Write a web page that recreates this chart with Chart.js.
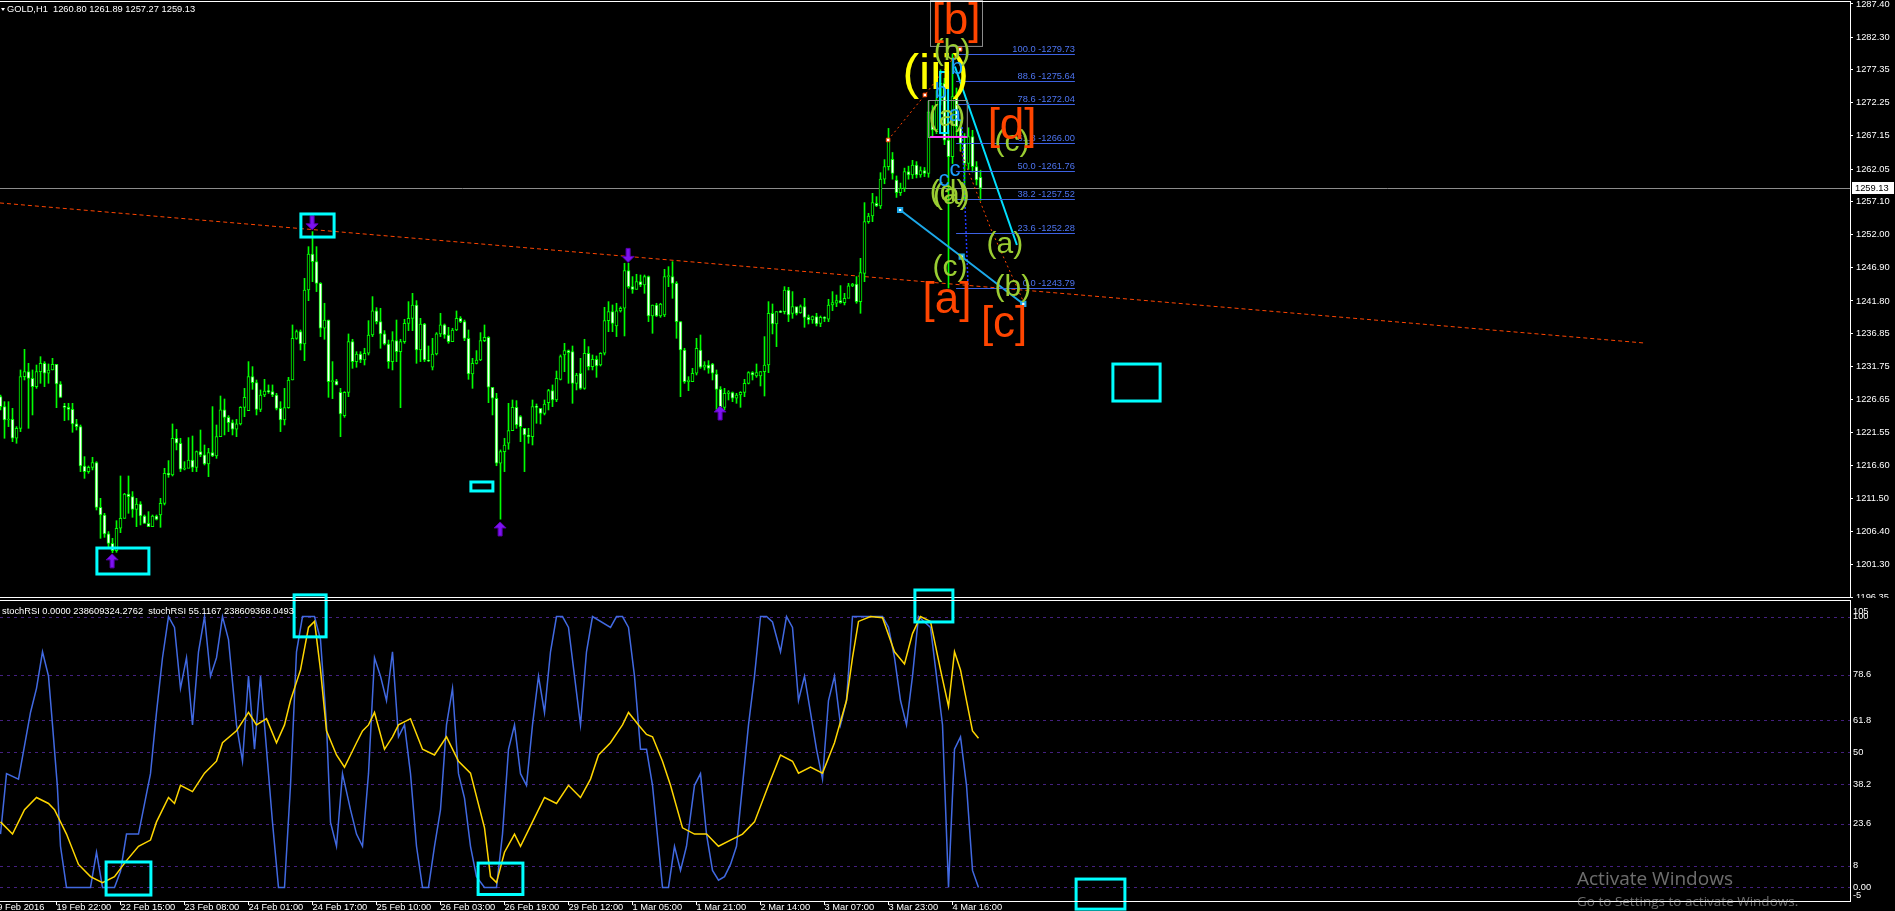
<!DOCTYPE html>
<html>
<head>
<meta charset="utf-8">
<title>GOLD,H1</title>
<script src="https://cdn.jsdelivr.net/npm/chart.js"></script>
<style>
  html, body { margin: 0; padding: 0; background: #000; overflow: hidden; width: 1895px; height: 911px; }
  #wrap { position: relative; width: 1895px; height: 911px; }
  #priceCanvas { position: absolute; left: 0; top: 0; }
  #oscCanvas { position: absolute; left: 0; top: 588px; }
</style>
</head>
<body>
<div id="wrap">
  <canvas id="priceCanvas" width="1895" height="598"></canvas>
  <canvas id="oscCanvas" width="1895" height="323"></canvas>
</div>
<script>
// ---------- GOLD H1 candles (bar index 0 = 19 Feb 2016 08:00) ----------
const O = [
  1227.11,1225.58,1223.53,1223.63,1220.72,1222.25,1230.18,1230.95,1229.93,1228.65,
  1230.95,1232.23,1230.70,1231.21,1232.08,1229.06,1225.68,1225.47,1225.17,1222.92,
  1222.51,1216.47,1215.60,1216.26,1216.98,1210.12,1208.94,1206.03,1204.59,1203.47,
  1206.90,1208.43,1212.17,1211.76,1209.81,1210.63,1208.79,1207.66,1207.15,1208.79,
  1208.94,1210.73,1215.34,1215.09,1220.72,1219.95,1215.96,1216.11,1217.39,1216.26,
  1218.67,1218.16,1216.77,1218.51,1218.00,1220.97,1225.07,1223.94,1223.12,1222.10,
  1222.92,1225.47,1224.96,1230.18,1229.26,1225.17,1227.37,1227.98,1227.88,1227.37,
  1225.32,1223.53,1225.42,1229.67,1236.07,1237.09,1235.20,1243.49,1249.02,1247.84,
  1244.51,1237.61,1238.88,1229.42,1229.52,1227.78,1224.20,1227.78,1235.56,1232.49,
  1233.66,1232.74,1233.77,1236.58,1240.27,1238.63,1236.74,1235.20,1232.49,1235.71,
  1234.02,1235.56,1238.37,1239.14,1241.19,1234.28,1238.27,1232.74,1231.62,1233.66,
  1236.74,1238.12,1236.58,1235.56,1237.35,1239.14,1238.63,1236.07,1230.59,1232.23,
  1232.74,1235.71,1236.22,1228.55,1226.86,1216.88,1218.67,1219.95,1221.89,1225.47,
  1224.04,1222.25,1221.23,1220.97,1225.58,1225.32,1224.55,1226.19,1228.03,1226.60,
  1229.77,1233.51,1234.18,1234.02,1229.16,1230.70,1228.39,1233.77,1231.72,1232.85,
  1231.97,1233.77,1238.78,1240.16,1237.96,1240.27,1240.68,1246.46,1244.00,1243.59,
  1244.77,1244.26,1245.54,1239.50,1241.19,1239.50,1239.65,1245.54,1245.54,1244.51,
  1238.63,1234.28,1229.42,1229.42,1230.70,1234.28,1231.62,1231.97,1232.13,1230.59,
  1228.24,1225.47,1227.62,1227.73,1226.86,1227.37,1227.78,1229.16,1230.80,1230.29,
  1230.29,1230.95,1231.97,1239.91,1238.27,1240.16,1240.16,1243.49,1239.91,1240.93,
  1240.01,1240.93,1239.29,1238.88,1239.40,1238.37,1239.29,1238.99,1241.19,1241.45,
  1241.85,1241.55,1242.21,1244.11,1244.41,1241.70,1246.05,1253.98,1254.85,1256.80,
  1256.39,1260.50,1262.42,1263.55,1260.37,1258.43,1259.09,1261.65,1261.14,1262.68,
  1261.14,1261.81,1261.40,1270.86,1268.05,1272.66,1275.22,1266.51,1263.96,1273.17,
  1268.56,1266.00,1262.93,1267.03,1262.42,1260.80
];
const H = [
  1227.37,1226.34,1226.34,1225.32,1222.50,1231.21,1234.38,1232.23,1231.21,1231.97,
  1233.25,1232.49,1232.13,1233.00,1232.08,1229.42,1226.09,1226.09,1226.09,1223.63,
  1222.76,1217.90,1216.47,1217.80,1217.13,1211.50,1209.20,1206.39,1205.36,1208.07,
  1214.93,1212.27,1214.93,1212.53,1211.50,1210.99,1208.94,1209.45,1208.94,1208.94,
  1211.50,1216.11,1217.29,1222.92,1222.10,1220.72,1217.13,1220.82,1221.07,1218.77,
  1221.99,1219.69,1219.18,1225.58,1222.76,1227.21,1226.75,1224.20,1223.53,1223.63,
  1225.58,1228.39,1232.49,1231.72,1229.67,1228.14,1229.77,1228.91,1228.91,1227.62,
  1226.34,1228.39,1230.08,1238.12,1237.35,1237.35,1245.28,1250.14,1252.45,1250.14,
  1244.62,1241.45,1238.88,1232.49,1229.77,1228.39,1227.88,1236.74,1235.92,1234.02,
  1234.02,1234.54,1238.78,1242.47,1240.78,1240.68,1237.25,1235.81,1237.09,1238.88,
  1235.92,1238.99,1241.70,1242.98,1241.85,1239.14,1238.37,1234.89,1236.07,1236.94,
  1239.91,1238.27,1237.76,1237.61,1240.27,1239.40,1238.88,1237.35,1233.00,1234.18,
  1236.94,1238.12,1236.33,1227.62,1227.62,1218.93,1220.72,1226.09,1226.60,1226.50,
  1224.20,1222.25,1222.25,1226.60,1225.99,1225.32,1226.60,1228.24,1228.91,1231.05,
  1233.51,1235.30,1234.28,1234.89,1230.70,1233.00,1235.92,1234.79,1233.51,1233.36,
  1233.87,1240.83,1241.70,1241.19,1241.45,1240.90,1247.59,1247.59,1245.54,1245.90,
  1245.79,1245.79,1245.64,1241.19,1241.45,1241.45,1246.66,1247.07,1247.84,1244.77,
  1238.63,1234.54,1230.18,1231.46,1236.07,1236.58,1232.49,1232.64,1232.23,1231.21,
  1228.65,1228.39,1228.03,1227.83,1227.62,1227.88,1229.77,1230.95,1230.95,1232.13,
  1230.95,1236.33,1241.70,1241.34,1240.16,1240.32,1244.00,1243.90,1243.24,1240.83,
  1241.19,1242.21,1239.65,1239.50,1239.91,1239.50,1239.40,1242.06,1243.24,1242.72,
  1244.16,1242.98,1244.51,1244.51,1245.54,1248.35,1256.90,1255.26,1258.33,1257.82,
  1261.50,1263.50,1268.30,1264.60,1261.00,1259.90,1262.20,1262.50,1263.40,1263.20,
  1262.40,1262.30,1272.50,1271.80,1274.10,1277.30,1276.00,1268.00,1279.73,1274.50,
  1269.50,1267.50,1268.40,1268.00,1263.20,1261.89
];
const L = [
  1225.07,1220.72,1222.51,1220.20,1219.95,1221.74,1229.67,1222.25,1224.30,1228.39,
  1229.16,1228.65,1229.16,1231.21,1225.42,1227.01,1223.43,1223.53,1221.64,1221.99,
  1215.60,1214.57,1215.34,1215.86,1209.71,1205.36,1205.51,1203.83,1203.16,1203.21,
  1206.23,1208.43,1209.20,1208.59,1207.15,1207.41,1207.66,1207.15,1207.15,1208.17,
  1207.05,1210.48,1214.73,1214.93,1218.93,1215.60,1215.86,1216.26,1215.60,1215.60,
  1217.90,1216.62,1214.83,1217.90,1217.64,1220.97,1221.23,1221.74,1221.23,1220.97,
  1222.76,1224.04,1224.96,1228.24,1224.30,1224.81,1227.11,1227.62,1227.11,1225.07,
  1221.74,1222.76,1225.32,1229.67,1235.92,1234.28,1232.64,1241.85,1244.77,1243.24,
  1236.33,1235.92,1227.01,1226.81,1228.91,1220.97,1223.94,1227.11,1231.46,1231.62,
  1232.33,1231.97,1233.51,1236.33,1238.27,1234.54,1235.05,1231.46,1231.21,1232.49,
  1225.42,1235.30,1237.25,1237.25,1232.23,1232.49,1232.49,1232.49,1231.21,1233.51,
  1236.33,1236.07,1235.30,1235.56,1237.25,1238.47,1235.71,1229.77,1228.39,1232.13,
  1232.64,1235.56,1226.19,1224.30,1216.50,1208.30,1215.60,1219.03,1221.89,1222.25,
  1220.20,1215.60,1219.95,1219.69,1223.02,1222.92,1224.30,1225.07,1225.58,1226.34,
  1229.67,1230.95,1229.16,1226.09,1228.14,1228.24,1228.24,1231.21,1231.21,1230.08,
  1231.82,1233.51,1237.09,1237.09,1236.33,1240.10,1236.43,1243.75,1242.98,1243.59,
  1244.00,1242.98,1238.63,1236.84,1239.40,1239.29,1239.40,1244.00,1242.21,1236.07,
  1227.11,1229.16,1228.03,1229.42,1230.44,1231.46,1231.21,1230.70,1229.67,1225.07,
  1225.07,1225.07,1226.60,1226.34,1226.09,1225.47,1227.11,1229.06,1229.67,1230.08,
  1228.75,1227.21,1230.80,1236.74,1234.79,1240.01,1239.81,1238.63,1239.14,1239.65,
  1239.91,1237.76,1238.27,1238.37,1237.96,1237.86,1238.63,1238.63,1240.32,1240.93,
  1241.45,1241.19,1242.36,1244.00,1241.45,1239.91,1244.77,1253.73,1253.98,1256.29,
  1256.00,1259.80,1261.90,1260.50,1257.70,1258.00,1258.60,1260.50,1260.60,1260.70,
  1260.80,1260.90,1260.80,1266.90,1267.50,1271.90,1265.80,1243.79,1262.90,1267.20,
  1264.80,1257.30,1262.00,1261.60,1259.60,1257.27
];
const C = [
  1225.58,1223.53,1223.63,1220.72,1222.25,1230.18,1230.95,1229.93,1228.65,1230.95,
  1232.23,1230.70,1231.21,1232.08,1229.06,1227.01,1225.47,1225.17,1222.92,1222.51,
  1216.47,1215.60,1216.26,1216.98,1210.12,1208.94,1206.03,1204.59,1203.47,1206.90,
  1208.43,1212.17,1211.76,1209.81,1210.63,1208.79,1207.66,1207.15,1208.79,1208.27,
  1210.73,1215.34,1215.09,1220.72,1219.95,1215.96,1216.11,1217.39,1216.26,1218.67,
  1218.16,1216.77,1218.51,1218.00,1220.97,1225.07,1223.94,1223.12,1222.10,1222.92,
  1225.47,1227.01,1230.18,1229.26,1225.17,1227.37,1227.98,1227.88,1227.37,1225.32,
  1223.53,1225.42,1229.67,1236.07,1237.09,1235.20,1243.49,1249.02,1247.84,1244.51,
  1237.61,1238.88,1229.42,1229.52,1228.91,1224.45,1227.78,1235.56,1232.49,1233.66,
  1232.74,1233.77,1236.58,1240.27,1238.63,1236.74,1235.20,1232.49,1235.71,1234.02,
  1235.56,1238.37,1239.14,1241.19,1234.28,1238.27,1232.74,1232.59,1233.66,1236.74,
  1238.12,1236.58,1235.56,1237.35,1239.14,1238.63,1236.07,1230.59,1232.23,1232.74,
  1235.71,1236.22,1228.55,1226.86,1216.88,1218.67,1219.69,1221.89,1225.47,1222.76,
  1222.51,1221.23,1220.97,1225.58,1225.47,1224.55,1225.99,1228.03,1226.60,1229.93,
  1233.25,1234.18,1233.87,1229.16,1230.44,1228.39,1233.77,1231.72,1232.85,1231.82,
  1233.77,1238.78,1240.16,1238.37,1240.27,1240.68,1246.46,1244.00,1243.59,1244.77,
  1244.26,1245.54,1239.50,1241.19,1239.50,1241.34,1245.54,1245.64,1244.51,1238.63,
  1234.28,1229.42,1229.67,1230.70,1234.54,1231.62,1231.97,1231.46,1230.70,1228.24,
  1225.47,1227.62,1227.83,1226.86,1227.37,1227.78,1229.16,1230.80,1230.44,1230.80,
  1230.95,1231.97,1239.91,1238.27,1240.16,1240.06,1243.49,1239.65,1240.93,1239.91,
  1240.93,1239.29,1238.88,1239.40,1238.27,1239.29,1239.14,1241.19,1241.55,1241.85,
  1241.55,1242.21,1244.11,1244.41,1241.70,1246.15,1253.98,1254.85,1256.90,1256.39,
  1260.50,1262.42,1266.51,1261.40,1258.43,1259.09,1261.65,1261.14,1262.68,1261.14,
  1261.81,1261.40,1270.86,1268.05,1272.66,1275.22,1266.51,1263.96,1273.17,1268.56,
  1266.00,1262.93,1267.03,1262.42,1260.37,1259.13
];
const symbol = 'GOLD,H1';
const lastQuote = { open: 1260.80, high: 1261.89, low: 1257.27, close: 1259.13 };

// ---------- axis labels ----------
const priceTicks = [1287.40,1282.30,1277.35,1272.25,1267.15,1262.05,1257.10,1252.00,1246.90,
                    1241.80,1236.85,1231.75,1226.65,1221.55,1216.60,1211.50,1206.40,1201.30,1196.35];
const timeTickBars = [-2.1,14,30,46,62,78,94,110,126,142,158,174,190,206,222,238];
const timeTickLabels = ['19 Feb 2016','19 Feb 22:00','22 Feb 15:00','23 Feb 08:00','24 Feb 01:00',
  '24 Feb 17:00','25 Feb 10:00','26 Feb 03:00','26 Feb 19:00','29 Feb 12:00','1 Mar 05:00',
  '1 Mar 21:00','2 Mar 14:00','3 Mar 07:00','3 Mar 23:00','4 Mar 16:00'];
const oscTicks = [105,100,78.6,61.8,50,38.2,23.6,8,0,-5];
const oscLevels = [100,78.6,61.8,50,38.2,23.6,8,0];

// ---------- stochRSI (bar, value) ----------
const stochMain = [[0,19.7],[1.5,42],[4.5,40],[7.5,64.6],[9,73.5],[10.5,87],[12,78],[13,60],[14.2,37.7],
  [15,15.2],[16.5,0],[18,0],[22.5,0],[24,13],[25.5,0],[28.5,0],[30,6],[31.5,19.7],[34.5,19.7],[37.5,42],
  [39,64.6],[40.5,84.8],[42,100],[43.5,96],[45,73.5],[46.5,84.8],[48,60],[49.5,87],[51,100],[52.5,78],
  [54,84.8],[55.5,100],[57,91.5],[59,60],[60.5,46.6],[62,78],[63.5,51],[65,78],[66.5,51],[68,24],
  [69.5,0],[71,0],[72.5,37.7],[74,87],[75.5,100],[78.5,100],[80,91.5],[81.5,60],[82.5,24],[84,15.2],
  [85.5,42],[87.5,28.7],[89,19.7],[90.5,15.2],[92,42],[93.5,84.8],[95,78],[96.5,69],[98,87],[99.5,55.6],
  [101,60],[102.5,42],[104,15.2],[105.5,0],[107,0],[108.5,15.2],[110,28.7],[111.5,60],[113,73.5],
  [114.5,42],[116,33],[117.5,15.2],[119,4],[121,0],[124,0],[125.5,19.7],[127,51],[128.5,60],[130,42],
  [131.5,37.7],[133,60],[134.5,78],[136,64.6],[137.5,87],[139,100],[140.5,100],[142,96],[143.5,78],
  [145,60],[146.5,87],[148,100],[152.5,96],[154,100],[155.5,100],[157,96],[158.5,78],[160,51],[161.5,51],
  [163,37.7],[164.5,15.2],[165.5,0],[167,0],[168.5,15.2],[170,6.3],[171.5,15.2],[173.5,37.7],[175,42],
  [176.5,19.7],[178,6.3],[179.5,2.7],[181,4],[182.5,8.5],[184,15.2],[185.5,37.7],[187,60],[188.5,78],
  [190,100],[191.5,100],[193,98],[195,87],[196.5,100],[198,96],[199.5,69],[201,78],[202.5,64.6],[204,51],
  [205.5,40],[207,69],[208.5,78],[210,60],[211.5,69],[213,100],[220.5,100],[222,96],[223.5,84.8],[225,69],
  [226.5,60],[228,78],[229.5,100],[231,98],[232.5,96],[234,78],[235.5,60],[237,0],[238.5,51],[240,55.6],
  [241.5,37.7],[243,6.3],[244.5,0]];
const stochSignal = [[0,24.2],[3,19.7],[6,28.7],[9,33.2],[12,31],[13.5,28.7],[16.5,19.7],[19.5,8.5],
  [22.5,4],[25.5,1.8],[28.5,4],[31.5,9.9],[34.5,15.2],[37.5,17.5],[39,24.2],[42,33.2],[43.5,31],[45,37.7],
  [48,35.4],[51,42.2],[54,46.6],[55.5,53.4],[59,57.8],[62,64.6],[64,60],[66.5,62.3],[69,53.4],[71,60],
  [72.5,69],[75,80.3],[77,96],[78.5,98.2],[80,80.3],[81.5,57.8],[84,48.9],[86,44.4],[87.5,48.9],[89,53.4],
  [90.5,57.8],[92,60],[93.5,64.6],[96,51],[98,55.6],[99.5,60],[102.5,62.3],[105.5,51],[108.5,48.9],
  [111.5,55.6],[114.5,46.6],[117.5,42.2],[121,22],[122.5,4],[124,1.8],[126,13],[128.5,19.7],[130,15.2],
  [133,24.2],[136,33.2],[139,31],[142,37.7],[145,33.2],[147.5,40],[149.5,48.9],[152.5,53.4],[155.5,60],
  [157,64.6],[159.5,60],[161.5,56.5],[163,55.6],[165.5,46.6],[167.5,37.7],[170.5,22],[173.5,19.7],
  [176.5,19.7],[179.5,15.2],[182.5,17.5],[185.5,19.7],[188.5,24.2],[192,37.7],[195,48.9],[198,46.6],
  [199.5,42.2],[202.5,44.4],[205.5,42.2],[208.5,53.4],[211.5,69],[213,84.8],[214.5,98.2],[217.5,100],
  [220.5,99.6],[223.5,87],[226,82.5],[228,93.7],[230,100],[232.5,98.2],[235,80.3],[237,66.8],[238.5,87],
  [240,80.3],[241.5,69],[243,57.8],[244.5,55.1]];
const stochHeader = 'stochRSI 0.0000 238609324.2762  stochRSI 55.1167 238609368.0493';

// ---------- drawing objects on the price panel ----------
const trendLine = [[-0.125,1256.85],[410.9,1235.35]];
const fibPercents = ['100.0','88.6','78.6','61.8','50.0','38.2','23.6','0.0'];
const fibPrices = [1279.73,1275.64,1272.04,1266.00,1261.76,1257.52,1252.28,1243.79];
const fibSpan = [238.9, 268.6];
const waveLineA = [[224.9,1255.77],[240.3,1248.6],[255.7,1241.34]];
const waveLineB = [[238.6,1277.8],[254.1,1250.4]];
const zigzagUp = [[221.9,1266.52],[231.1,1273.43],[239.9,1280.44]];
const zigzagDown = [[239.9,1265.0],[247.5,1253.0],[256.1,1241.2]];
const dropLine = [[240.4,1268.5],[241.9,1243.94]];
// [bar from, bar to, price low, price high]
const priceBoxes = [[24.1,37.1,1199.88,1203.87],[75.1,83.4,1251.62,1255.16],
                    [117.6,123.1,1212.63,1214.01],[278.1,289.9,1226.44,1232.12]];
const oscBoxes = [[73.4,81.4,92.5,108.0],[26.4,37.6,-2.8,9.4],[119.4,130.6,-2.6,9.0],
                  [228.6,238.1,98.0,109.8],[268.9,281.1,-8.0,3.1]];
// swing arrows: dir 1 = up, -1 = down
const swingArrows = [{bar:27.9, price:1201.9, dir:1},{bar:77.9, price:1253.8, dir:-1},
                     {bar:124.9, price:1206.8, dir:1},{bar:156.9, price:1248.8, dir:-1},
                     {bar:179.9, price:1224.6, dir:1}];
const waveLabels = [
  {t:'(iii)', bar:233.8, price:1276.4, size:50, color:'#ffff00'},
  {t:'(b)', bar:237.9, price:1280.0, size:30, color:'#9acd32'},
  {t:'(a)', bar:236.6, price:1269.9, size:30, color:'#9acd32'},
  {t:'(d)', bar:236.9, price:1258.4, size:30, color:'#9acd32'},
  {t:'(a)', bar:237.7, price:1258.0, size:30, color:'#9acd32'},
  {t:'(c)', bar:237.4, price:1246.9, size:30, color:'#9acd32'},
  {t:'(c)', bar:252.9, price:1266.1, size:30, color:'#9acd32'},
  {t:'(a)', bar:251.1, price:1250.4, size:30, color:'#9acd32'},
  {t:'(b)', bar:253.1, price:1243.8, size:30, color:'#9acd32'},
  {t:'b', bar:239.1, price:1277.6, size:22, color:'#1ea0ff'},
  {t:'b', bar:235.1, price:1273.9, size:22, color:'#1ea0ff'},
  {t:'a', bar:238.6, price:1270.4, size:22, color:'#1ea0ff'},
  {t:'c', bar:238.6, price:1261.9, size:22, color:'#1ea0ff'},
  {t:'c', bar:235.9, price:1260.4, size:22, color:'#1ea0ff'},
  {t:'[b]', bar:238.9, price:1284.6, size:44, color:'#ff4500'},
  {t:'[d]', bar:252.9, price:1268.5, size:44, color:'#ff4500'},
  {t:'[a]', bar:236.6, price:1241.8, size:44, color:'#ff4500'},
  {t:'[c]', bar:250.9, price:1238.1, size:44, color:'#ff4500'}
];

// ---------- chart setup ----------
const FONT = "'Liberation Sans', Arial, sans-serif";
Chart.defaults.font.family = FONT;
Chart.defaults.font.size = 9.3;
Chart.defaults.color = '#ffffff';

const X_MIN = -0.125, X_MAX = 462.375, AXIS_W = 45;
const toXY = arr => arr.map(([x, y]) => ({x, y}));

const wickData = O.map((o, i) => ({x: i, y: [L[i], H[i]]}));
const bodyData = O.map((o, i) => ({x: i, y: [o, C[i]]}));
const bodyFill = O.map((o, i) => (C[i] > o ? '#000000' : '#ffffff'));

function drawArrow(ctx, cx, cy, dir) {
  const shape = [[0,-7],[6,-1],[2,-1],[2,7],[-2,7],[-2,-1],[-6,-1]];
  ctx.beginPath();
  shape.forEach(([dx, dy], k) => {
    const px = cx + dx, py = cy + dy * dir;
    if (k === 0) ctx.moveTo(px, py); else ctx.lineTo(px, py);
  });
  ctx.closePath();
  ctx.fillStyle = '#7d12f0';
  ctx.fill();
  ctx.strokeStyle = '#5a00b0';
  ctx.lineWidth = 1;
  ctx.stroke();
}

const priceDecor = {
  id: 'priceDecor',
  beforeDraw(chart) {
    const {ctx, width, height} = chart;
    ctx.save();
    ctx.fillStyle = '#000';
    ctx.fillRect(0, 0, width, height);
    ctx.restore();
  },
  beforeDatasetsDraw(chart) {
    const {ctx, chartArea: a, scales: {y}} = chart;
    const yy = Math.round(y.getPixelForValue(lastQuote.close)) + 0.5;
    ctx.save();
    ctx.strokeStyle = '#8c8c8c';
    ctx.lineWidth = 1;
    ctx.beginPath(); ctx.moveTo(a.left, yy); ctx.lineTo(a.right, yy); ctx.stroke();
    ctx.restore();
  },
  afterDatasetsDraw(chart) {
    const {ctx, scales: {x, y}} = chart;
    const X = v => x.getPixelForValue(v), Y = v => y.getPixelForValue(v);
    ctx.save();

    swingArrows.forEach(a => drawArrow(ctx, X(a.bar), Y(a.price), a.dir));

    ctx.strokeStyle = '#00ffff';
    ctx.lineWidth = 3;
    priceBoxes.forEach(b => ctx.strokeRect(X(b[0]), Y(b[3]), X(b[1]) - X(b[0]), Y(b[2]) - Y(b[3])));

    // fibonacci levels
    ctx.strokeStyle = '#3d62e4';
    ctx.lineWidth = 1;
    fibPrices.forEach(p => {
      const yy = Math.round(Y(p)) + 0.5;
      ctx.beginPath(); ctx.moveTo(X(fibSpan[0]), yy); ctx.lineTo(X(fibSpan[1]), yy); ctx.stroke();
    });
    ctx.fillStyle = '#4d74f0';
    ctx.font = '9.3px ' + FONT;
    ctx.textAlign = 'right';
    ctx.textBaseline = 'alphabetic';
    fibPrices.forEach((p, i) => ctx.fillText(fibPercents[i] + ' -' + p.toFixed(2), X(fibSpan[1]), Y(p) - 2));

    // frames around the wave labels
    ctx.lineWidth = 1;
    ctx.strokeStyle = '#8c8c8c';
    ctx.strokeRect(Math.round(X(232.4)) + 0.5, Math.round(Y(1288.0)) + 0.5, X(245.4) - X(232.4), Y(1280.95) - Y(1288.0));
    ctx.strokeRect(Math.round(X(231.9)) + 0.5, Math.round(Y(1272.66)) + 0.5, X(241.6) - X(231.9), Y(1266.98) - Y(1272.66));
    ctx.strokeStyle = '#ff40ff';
    ctx.lineWidth = 2;
    ctx.beginPath(); ctx.moveTo(X(232.4), Y(1266.98)); ctx.lineTo(X(241.6), Y(1266.98)); ctx.stroke();
    ctx.strokeStyle = '#00e5ff';
    ctx.strokeRect(X(234.9), Y(1276.96), X(236.9) - X(234.9), Y(1267.59) - Y(1276.96));

    // wave labels
    ctx.textAlign = 'center';
    ctx.textBaseline = 'middle';
    waveLabels.forEach(w => {
      ctx.font = w.size + 'px ' + FONT;
      ctx.fillStyle = w.color;
      ctx.fillText(w.t, X(w.bar), Y(w.price));
    });
    ctx.restore();
  },
  afterDraw(chart) {
    const {ctx, chartArea: a, scales: {y}} = chart;
    ctx.save();
    ctx.fillStyle = '#ffffff';
    ctx.fillRect(0, 1, a.right + 1, 1);
    ctx.fillRect(0, 597, a.right + 1, 1);
    ctx.fillRect(a.right, 1, 1, 597);

    // header
    ctx.beginPath(); ctx.moveTo(1, 8); ctx.lineTo(5, 8); ctx.lineTo(3, 11); ctx.closePath(); ctx.fill();
    ctx.font = '9.3px ' + FONT;
    ctx.textAlign = 'left';
    ctx.textBaseline = 'middle';
    const q = lastQuote;
    ctx.fillText(symbol + '  ' + [q.open, q.high, q.low, q.close].map(v => v.toFixed(2)).join(' '), 7, 9.5);

    // last price tag
    const ty = Math.round(y.getPixelForValue(q.close));
    ctx.fillStyle = '#ffffff';
    ctx.fillRect(a.right + 2, ty - 6, 42, 12);
    ctx.fillStyle = '#000000';
    ctx.fillText(q.close.toFixed(2), a.right + 5, ty + 0.5);
    ctx.restore();
  }
};

new Chart(document.getElementById('priceCanvas'), {
  type: 'bar',
  data: {
    datasets: [
      {type: 'line', data: toXY(waveLineA), borderColor: '#1ca8e8', borderWidth: 2, pointStyle: 'rect',
       pointRadius: 3, pointBackgroundColor: '#ffffff', pointBorderColor: '#1ca8e8', pointBorderWidth: 2, order: 1},
      {type: 'line', data: toXY(waveLineB), borderColor: '#00e0ff', borderWidth: 2, pointRadius: 0, order: 1},
      {type: 'line', data: toXY(zigzagUp), borderColor: '#ff4500', borderWidth: 1, borderDash: [2, 3],
       pointStyle: 'rect', pointRadius: 2.5, pointBackgroundColor: '#ffffff', pointBorderColor: '#ff4500', order: 2},
      {type: 'line', data: toXY(zigzagDown), borderColor: '#ff4500', borderWidth: 1, borderDash: [2, 3], pointRadius: 0, order: 2},
      {type: 'line', data: toXY(dropLine), borderColor: '#2038ff', borderWidth: 1.5, borderDash: [2, 2], pointRadius: 0, order: 2},
      {label: 'body', data: bodyData, backgroundColor: bodyFill, borderColor: '#00ff00', borderWidth: 1,
       borderSkipped: false, barThickness: 3, minBarLength: 1, grouped: false, order: 5},
      {label: 'wick', data: wickData, backgroundColor: '#00ff00', barThickness: 1, grouped: false, order: 6},
      {type: 'line', data: toXY(trendLine), borderColor: '#ff4500', borderWidth: 1, borderDash: [4, 3], pointRadius: 0, order: 7}
    ]
  },
  options: {
    responsive: false,
    animation: false,
    devicePixelRatio: 1,
    events: [],
    layout: {autoPadding: false, padding: {top: 1, bottom: 1, left: 0, right: 0}},
    plugins: {legend: {display: false}, tooltip: {enabled: false}},
    scales: {
      x: {type: 'linear', min: X_MIN, max: X_MAX, display: false, offset: false},
      y: {
        position: 'right', min: 1196.35, max: 1287.86,
        afterBuildTicks: s => { s.ticks = priceTicks.map(v => ({value: v})); },
        afterFit: s => { s.width = AXIS_W; s.paddingTop = 0; s.paddingBottom = 0; },
        grid: {drawOnChartArea: false, color: '#ffffff', tickLength: 3},
        border: {display: false},
        ticks: {color: '#ffffff', padding: 3, autoSkip: false, callback: v => Number(v).toFixed(2)}
      }
    }
  },
  plugins: [priceDecor]
});

const oscDecor = {
  id: 'oscDecor',
  beforeDraw(chart) {
    const {ctx, width, height} = chart;
    ctx.save();
    ctx.fillStyle = '#000';
    ctx.fillRect(0, 10, width, height - 10);
    ctx.restore();
  },
  beforeDatasetsDraw(chart) {
    const {ctx, chartArea: a, scales: {y}} = chart;
    ctx.save();
    ctx.strokeStyle = '#44207f';
    ctx.lineWidth = 1;
    ctx.setLineDash([3, 4]);
    oscLevels.forEach(v => {
      const yy = Math.round(y.getPixelForValue(v)) + 0.5;
      ctx.beginPath(); ctx.moveTo(a.left, yy); ctx.lineTo(a.right, yy); ctx.stroke();
    });
    ctx.restore();
  },
  afterDatasetsDraw(chart) {
    const {ctx, scales: {x, y}} = chart;
    const X = v => x.getPixelForValue(v), Y = v => y.getPixelForValue(v);
    ctx.save();
    ctx.strokeStyle = '#00ffff';
    ctx.lineWidth = 3;
    oscBoxes.forEach(b => ctx.strokeRect(X(b[0]), Y(b[3]), X(b[1]) - X(b[0]), Y(b[2]) - Y(b[3])));
    ctx.restore();
  },
  afterDraw(chart) {
    const {ctx, chartArea: a, scales: {y}} = chart;
    ctx.save();
    ctx.fillStyle = '#ffffff';
    ctx.fillRect(0, 12, a.right + 1, 1);
    ctx.fillRect(0, a.bottom, a.right + 1, 1);
    ctx.fillRect(a.right, 12, 1, a.bottom - 11);

    ctx.font = '9.3px ' + FONT;
    ctx.textAlign = 'left';
    ctx.textBaseline = 'middle';
    ctx.fillText(stochHeader, 2, 23);
    ctx.fillText('105', a.right + 3, y.getPixelForValue(105) + 8);
    ctx.fillText('-5', a.right + 3, y.getPixelForValue(-5) - 6);

    ctx.fillStyle = 'rgba(200,200,200,0.55)';
    ctx.textBaseline = 'alphabetic';
    ctx.font = "19px 'Open Sans', 'Noto Sans', sans-serif";
    ctx.fillText('Activate Windows', 1577, 297);
    ctx.font = "13.5px 'Open Sans', 'Noto Sans', sans-serif";
    ctx.fillText('Go to Settings to activate Windows.', 1577, 318);
    ctx.restore();
  }
};

new Chart(document.getElementById('oscCanvas'), {
  type: 'line',
  data: {
    datasets: [
      {label: 'stochRSI', data: toXY(stochMain), borderColor: '#4169e1', borderWidth: 1.5, pointRadius: 0, tension: 0, order: 2},
      {label: 'signal', data: toXY(stochSignal), borderColor: '#ffd700', borderWidth: 1.5, pointRadius: 0, tension: 0, order: 1}
    ]
  },
  options: {
    responsive: false,
    animation: false,
    devicePixelRatio: 1,
    events: [],
    layout: {autoPadding: false, padding: {top: 15, bottom: 0, left: 0, right: 0}},
    plugins: {legend: {display: false}, tooltip: {enabled: false}},
    scales: {
      x: {
        type: 'linear', min: X_MIN, max: X_MAX, position: 'bottom', offset: false,
        afterBuildTicks: s => { s.ticks = timeTickBars.map(v => ({value: v})); },
        afterFit: s => { s.height = 10; s.paddingLeft = 0; s.paddingRight = 0; },
        grid: {drawOnChartArea: false, color: '#ffffff', tickLength: 4},
        border: {display: false},
        ticks: {color: '#ffffff', align: 'start', maxRotation: 0, autoSkip: false, padding: -3,
                callback: (v, i) => timeTickLabels[i]}
      },
      y: {
        position: 'right', min: -5, max: 105,
        afterBuildTicks: s => { s.ticks = oscTicks.map(v => ({value: v})); },
        afterFit: s => { s.width = AXIS_W; s.paddingTop = 0; s.paddingBottom = 0; },
        grid: {drawOnChartArea: false, drawTicks: false},
        border: {display: false},
        ticks: {color: '#ffffff', padding: 3, autoSkip: false,
                callback: v => (v === 105 || v === -5) ? '' : (v === 0 ? '0.00' : String(v))}
      }
    }
  },
  plugins: [oscDecor]
});
</script>
</body>
</html>
